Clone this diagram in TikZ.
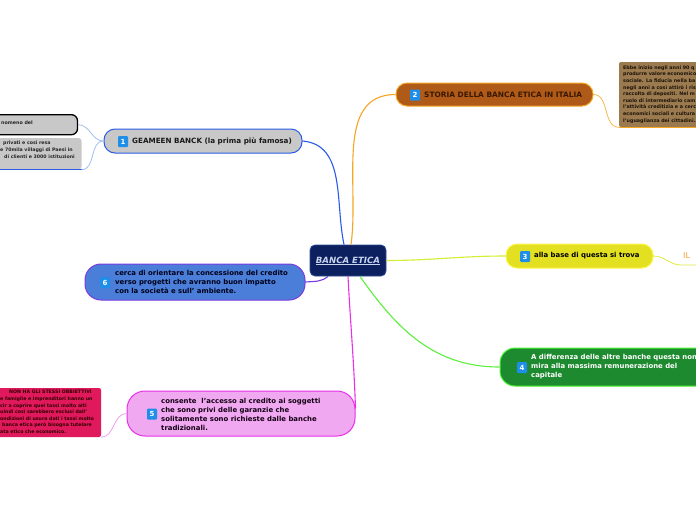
\documentclass[tikz,border=0pt]{standalone}
\usepackage{fontspec}
\setmainfont{DejaVu Sans}
\usetikzlibrary{shapes.misc}
\definecolor{navy}{HTML}{0C1F5E}
\definecolor{navyline}{HTML}{2C4A90}
\definecolor{centertext}{HTML}{C8D4EE}
\definecolor{cblue}{HTML}{2A5AE8}
\definecolor{corange}{HTML}{F5A623}
\definecolor{cyellow}{HTML}{D4EE30}
\definecolor{cgreen}{HTML}{5CF03C}
\definecolor{cmag}{HTML}{E830E8}
\definecolor{cpurp}{HTML}{7A3AE0}
\definecolor{greyfill}{HTML}{C8C8C8}
\definecolor{brownfill}{HTML}{B05A1A}
\definecolor{browntext}{HTML}{3A1800}
\definecolor{olivebox}{HTML}{9A7A4E}
\definecolor{yellowfill}{HTML}{E2E020}
\definecolor{greenfill}{HTML}{1E8A30}
\definecolor{pinkfill}{HTML}{F0A8F0}
\definecolor{bluefill}{HTML}{4A7ED8}
\definecolor{crimson}{HTML}{E0185C}
\definecolor{badgeblue}{HTML}{1E8EE8}
\definecolor{lightblue}{HTML}{A0C0F0}
\definecolor{lightpink}{HTML}{F0A0F0}
\definecolor{paleyellow}{HTML}{DDEB40}
\definecolor{ilorange}{HTML}{F0A030}
\tikzset{
  topic/.style={rounded corners=11pt, line width=1pt, inner sep=0pt},
  badge/.style={fill=badgeblue, rounded corners=1pt, minimum width=10pt, minimum height=11pt, inner sep=0pt, text=white, font=\bfseries\fontsize{7}{7}\selectfont},
  ttext/.style={anchor=west, inner sep=0pt, align=left, font=\bfseries\fontsize{6.9}{9}\selectfont},
  smalltext/.style={anchor=north west, inner sep=0pt, align=left, font=\bfseries\fontsize{4.8}{6.6}\selectfont},
  conn/.style={line width=1.1pt},
  thin/.style={line width=0.8pt},
}
\begin{document}
\begin{tikzpicture}[x=1pt,y=-1pt]
\useasboundingbox (0,0) rectangle (696,520);
\fill[white] (0,0) rectangle (696,520);
\begin{scope}
\clip (0,0) rectangle (696,520);
% central node
\node[rectangle, rounded corners=5pt, fill=navy, draw=navyline, line width=0.8pt, minimum width=76pt, minimum height=31pt, inner sep=0pt] (c) at (348,260.5) {};
\node[inner sep=0pt, text=centertext, font=\bfseries\itshape\fontsize{8.6}{9}\selectfont] (ct) at (348,261) {\underline{BANCA ETICA}};
% topic 1
\node[topic, fill=greyfill, draw=cblue, minimum width=198pt, minimum height=24pt] (n1) at (203,141) {};
\node[badge] (b1) at (123,141.5) {1};
\node[ttext, text=black!90, font=\bfseries\fontsize{7.2}{9}\selectfont] (t1) at (132,141) {GEAMEEN BANCK (la prima più famosa)};
% left boxes
\node[fill=greyfill, draw=black, line width=1.3pt, rounded corners=6pt, minimum width=97pt, minimum height=20pt, inner sep=0pt] (l1) at (29,124.7) {};
\node[smalltext, font=\bfseries\fontsize{4.8}{6.6}\selectfont, anchor=west, text=black!85] (l1t) at (1,122.5) {nomeno del};
\node[fill=greyfill, rounded corners=3pt, minimum width=101.5pt, minimum height=31.5pt, inner sep=0pt] (l2) at (30.75,153.75) {};
\draw[cblue, line width=1.2pt] (l2.south west) -- (l2.south east);
\node[smalltext, font=\bfseries\fontsize{4.7}{7}\selectfont, text=black!85] (l2t) at (0,140.2) {\hspace*{3pt}privati e così resa\\e 70mila villaggi di Paesi in\\\hspace*{4pt}di clienti e 3000 istituzioni};
% topic 2
\node[topic, fill=brownfill, draw=corange, minimum width=197pt, minimum height=23pt] (n2) at (494.5,94.5) {};
\node[badge] (b2) at (415,95) {2};
\node[ttext, text=browntext, font=\bfseries\fontsize{7.4}{9}\selectfont] (t2) at (424,95) {STORIA DELLA BANCA ETICA IN ITALIA};
\node[fill=olivebox, rounded corners=2pt, minimum width=100pt, minimum height=65pt, inner sep=0pt] (h1) at (669,94.5) {};
\draw[corange, line width=1pt] (h1.south west) -- (h1.south east);
\node[smalltext, text=black!85!brown] (h1t) at (623,65.5) {Ebbe inizio negli anni 90 q\\produrre valore economico\\sociale. La fiducia nella ba\\negli anni a così attirò i ris\\raccolta di depositi. Nel m\\ruolo di intermediario cam\\l'attività creditizia e a cerc\\economici sociali e cultura\\l'uguaglianza dei cittadini.};
% topic 3
\node[topic, fill=yellowfill, draw=yellow!70!white, minimum width=147pt, minimum height=24pt] (n3) at (579.5,256) {};
\node[badge] (b3) at (525,256.5) {3};
\node[ttext, text=black] (t3) at (534,256) {alla base di questa si trova};
\node[inner sep=0pt, anchor=west, text=ilorange, font=\fontsize{8}{9}\selectfont] (il) at (683,256) {IL};
\coordinate (ilend) at (696,265);
% topic 4
\node[topic, rounded corners=15pt, fill=greenfill, draw=cgreen!80!green, minimum width=240pt, minimum height=38pt] (n4) at (620,367) {};
\node[badge] (b4) at (522,367.5) {4};
\node[ttext, text=white] (t4) at (531,367) {A differenza delle altre banche questa non\\mira alla massima remunerazione del\\capitale};
% topic 5
\node[topic, rounded corners=18pt, fill=pinkfill, draw=cmag, minimum width=228pt, minimum height=45pt] (n5) at (241,413.5) {};
\node[badge] (b5) at (152,414) {5};
\node[ttext, text=black!85!violet] (t5) at (161,414.5) {consente \ l'accesso al credito ai soggetti\\che sono privi delle garanzie che\\solitamente sono richieste dalle banche\\tradizionali.};
\node[fill=crimson, rounded corners=2pt, minimum width=121pt, minimum height=49pt, inner sep=0pt] (p1) at (40.5,412.5) {};
\node[smalltext, font=\bfseries\fontsize{4.7}{6.6}\selectfont, text=black!80!red] (p1t) at (0,390.2) {\hspace*{9pt}NON HA GLI STESSI OBBIETTIVI\\e famiglie e imprenditori hanno un\\cir a coprire quei tassi molto alti\\uindi così sarebbero esclusi dall'\\ondizioni di usura dati i tassi molto\\\hspace*{2pt}banca etica però bisogna tutelare\\ata etico che economico.};
% topic 6
\node[topic, rounded corners=16pt, fill=bluefill, draw=cpurp, minimum width=220pt, minimum height=36pt] (n6) at (195,282) {};
\node[badge] (b6) at (105,282.5) {6};
\node[ttext, text=black!90!blue] (t6) at (115,282) {cerca di orientare la concessione del credito\\verso progetti che avranno buon impatto\\con la società e sull' ambiente.};
% connectors
\draw[conn, cblue] ([xshift=-4pt]c.north) to[out=102,in=-5] (n1.east);
\draw[conn, corange] ([xshift=3pt]c.north) to[out=82,in=180] (n2.west);
\draw[conn, cyellow] (c.east) to[out=0,in=180] (n3.west);
\draw[conn, cgreen] ([xshift=12pt]c.south) to[out=-55,in=180] (n4.west);
\draw[conn, cmag] (c.south) to[out=-87,in=92] ([yshift=5pt]n5.east);
\draw[conn, cpurp] ([xshift=-20pt]c.south) to[out=-140,in=5] (n6.east);
\draw[thin, lightblue] (n1.west) to[out=180,in=0] (l1.east);
\draw[thin, lightblue] (n1.west) to[out=180,in=0] (l2.south east);
\draw[thin, corange!80] (n2.east) to[out=0,in=180] (h1.south west);
\draw[thin, paleyellow] (n3.east) to[out=0,in=180] ([xshift=-2pt]il.south west |- ilend) -- (ilend);
\draw[thin, lightpink] (n5.west) to[out=180,in=0] (p1.south east);
\end{scope}
\end{tikzpicture}
\end{document}
